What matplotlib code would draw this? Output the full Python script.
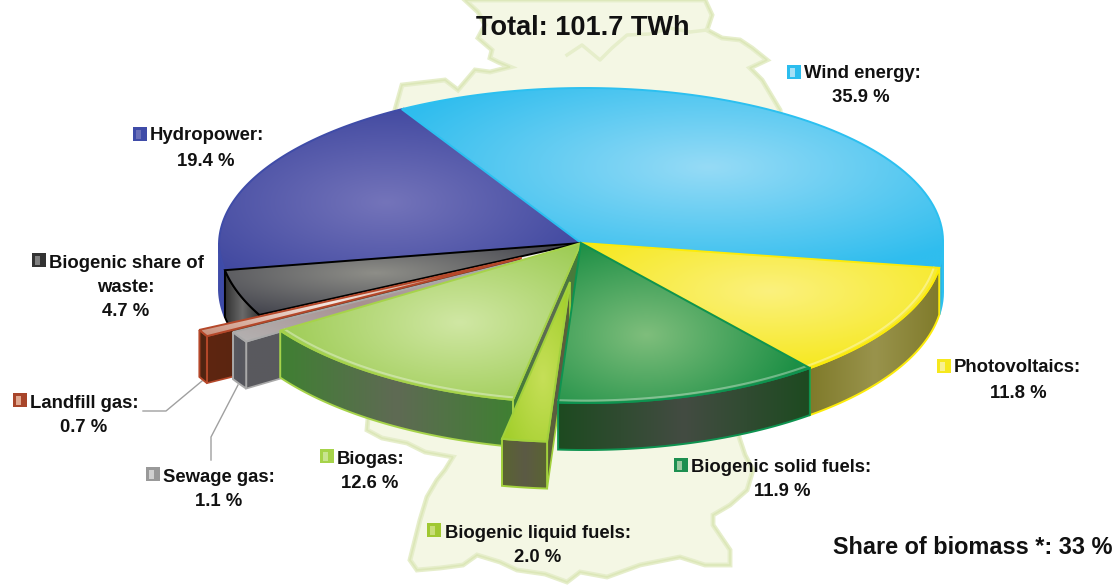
import numpy as np
import matplotlib
matplotlib.use("Agg")
import matplotlib.pyplot as plt
from matplotlib.patches import Polygon, Rectangle

plt.rcParams['font.family'] = ['Liberation Sans', 'DejaVu Sans']

# clockwise from the top of the pie
sources = ["Wind energy", "Photovoltaics", "Biogenic solid fuels",
           "Biogenic liquid fuels", "Biogas", "Sewage gas", "Landfill gas",
           "Biogenic share of waste", "Hydropower"]
shares = [35.9, 11.8, 11.9, 2.0, 12.6, 1.1, 0.7, 4.7, 19.4]
total_label = "Total: 101.7 TWh"
biomass_label = "Share of biomass *: 33 %"

CX, CY = 581, 243
RX, RY_BACK, RY_FRONT = 362, 155, 160
DEPTH = 47
START = 120.3
FONT = 13.3

# slice styles: face edge, face centre, wall edge, wall centre, outline
styles = {
    "Wind energy": ("#2FBDEE", "#96DBF6", "#2BB5E6", "#2BB5E6", "#2CC0F0"),
    "Photovoltaics": ("#F6E81E", "#FBF17E", "#7F7A2A", "#99934C", "#FCEB0A"),
    "Biogenic solid fuels": ("#1C8F45", "#7FBE7C", "#1D4A20", "#434C42", "#0E9350"),
    "Biogenic liquid fuels": ("#A3CF2C", "#C6DF58", "#5A6530", "#5C5A45", "#A2D13C"),
    "Biogas": ("#9CCB52", "#D0E7A4", "#3F8032", "#5F6A54", "#A6D34A"),
    "Sewage gas": ("#B5B5B5", "#A89090", "#5A5A5E", "#55565E", "#A9A9A9"),
    "Landfill gas": ("#C58873", "#F4E8E2", "#5E2610", "#4E2412", "#B5482A"),
    "Biogenic share of waste": ("#45464F", "#8E8E88", "#2E2E2E", "#6A6A6A", "#000000"),
    "Hydropower": ("#3F479F", "#7474BA", "#3C4AAA", "#3F4CA8", "#3F4CA8"),
}
# pulled out slices, shift in pixels
shifts = {"Biogenic liquid fuels": (-11, 39), "Sewage gas": (-34, 11),
          "Landfill gas": (-60, 15)}
side_walls = ["Biogenic liquid fuels", "Biogas", "Sewage gas", "Landfill gas"]
glow_slices = ["Photovoltaics", "Biogenic solid fuels", "Biogas"]
draw_order = ["Hydropower", "Wind energy", "Biogenic share of waste",
              "Landfill gas", "Sewage gas", "Biogas", "Biogenic liquid fuels",
              "Photovoltaics", "Biogenic solid fuels"]

# name, value, marker colour, lighter inner colour, then marker, name, value spots
labels = [
    ("Wind energy:", "35.9 %", "#2BBDEE", "#A5E0F6", (787, 72), (804, 74), (861, 98)),
    ("Hydropower:", "19.4 %", "#3F4CA8", "#6A70B8", (133, 134), (150, 136), (206, 161)),
    ("Biogenic share of", "4.7 %", "#333333", "#808080", (32, 260), (49, 263), (126, 311)),
    ("Landfill gas:", "0.7 %", "#A8452A", "#E0A890", (13, 400), (30, 403), (84, 427)),
    ("Sewage gas:", "1.1 %", "#999999", "#D0D0D0", (146, 474), (163, 478), (219, 501)),
    ("Biogas:", "12.6 %", "#A6D34A", "#C8E490", (320, 456), (337, 459), (370, 483)),
    ("Biogenic liquid fuels:", "2.0 %", "#A0C832", "#C8DE78", (427, 530), (445, 533), (538, 557)),
    ("Biogenic solid fuels:", "11.9 %", "#1C8F50", "#9AC8A0", (674, 465), (691, 467), (782, 491)),
    ("Photovoltaics:", "11.8 %", "#F6E81E", "#F8F090", (937, 366), (954, 368), (1018, 393)),
]

# outline of the country behind the pie
germany_x = [465, 478, 485, 478, 492, 490, 498, 510, 490, 475, 458, 445, 402, 395,
             367, 382, 407, 425, 453, 445, 437, 427, 420, 415, 410, 417, 440, 463,
             477, 500, 517, 545, 567, 580, 607, 640, 680, 705, 730, 730, 713, 713,
             730, 747, 753, 745, 740, 737, 800, 780, 762, 750, 767, 752, 740, 722,
             707, 712, 705]
germany_y = [0, 12, 25, 38, 50, 58, 62, 67, 72, 70, 90, 80, 85, 110,
             430, 438, 443, 452, 457, 470, 480, 497, 520, 540, 560, 570, 568, 565,
             555, 562, 570, 574, 582, 572, 577, 565, 557, 565, 565, 550, 525, 515,
             505, 490, 470, 455, 440, 430, 300, 110, 80, 68, 60, 48, 40, 38,
             30, 15, 0]
coast_x = [567, 582, 600, 612, 627, 650, 670, 690, 707]
coast_y = [55, 45, 60, 48, 35, 34, 28, 32, 30]


def hex_rgb(color):
    return np.array(matplotlib.colors.to_rgb(color))


def arc_point(t):
    """Point of the pie rim for an angle in degrees."""
    r = np.radians(t)
    ry = RY_BACK if np.sin(r) > 0 else RY_FRONT
    return CX + RX * np.cos(r) + 4 * abs(np.sin(r)), CY - ry * np.sin(r)


def fill_gradient(ax, pts, inner, outer, kind, zorder, center=None):
    """Fill a polygon with a gradient image clipped to it."""
    pts = np.array(pts)
    x0, y0 = pts.min(axis=0) - 1
    x1, y1 = pts.max(axis=0) + 1
    xs, ys = np.meshgrid(np.linspace(x0, x1, 300), np.linspace(y0, y1, 200))
    if kind == "radial":
        cx, cy = center
        d = np.hypot((xs - cx) / max(x1 - x0, 1) * 1.6, (ys - cy) / max(y1 - y0, 1) * 1.6)
    else:
        d = np.abs(xs - (x0 + x1) / 2) / max((x1 - x0) / 2, 1)
    d = np.clip(d, 0, 1)[..., None]
    img = hex_rgb(inner) * (1 - d) + hex_rgb(outer) * d
    clip = Polygon(pts, closed=True, transform=ax.transData, fc="none", ec="none")
    ax.add_patch(clip)
    im = ax.imshow(img, extent=(x0, x1, y1, y0), origin="upper", aspect="auto",
                   zorder=zorder, interpolation="bilinear")
    im.set_clip_path(clip)


def draw_slice(ax, name, t0, t1, z):
    face_edge, face_mid, wall_edge, wall_mid, line = styles[name]
    dx, dy = shifts.get(name, (0, 0))
    ts = np.linspace(t0, t1, 80)
    rim = np.array([arc_point(t) for t in ts]) + (dx, dy)
    apex = np.array([CX + dx, CY + dy])

    # the side wall that shows next to the neighbour
    if name in side_walls:
        end = rim[0]
        wall = [apex, end, end + (0, DEPTH), apex + (0, DEPTH)]
        fill_gradient(ax, wall, wall_mid, wall_edge, "linear", z)
        ax.add_patch(Polygon(wall, closed=True, fc="none", ec=line, lw=1.2, zorder=z + 0.1))

    # outer wall, only the part facing the viewer
    is_front = np.sin(np.radians(ts)) <= 0.01
    front = rim[is_front]
    if len(front) > 1:
        wall = np.vstack([front, front[::-1] + (0, DEPTH)])
        fill_gradient(ax, wall, wall_mid, wall_edge, "linear", z + 0.2)
        ax.add_patch(Polygon(wall, closed=True, fc="none", ec=line, lw=1.4, zorder=z + 0.3))

    face = np.vstack([apex, rim])
    mid = apex * 0.4 + rim[len(rim) // 2] * 0.6
    fill_gradient(ax, face, face_mid, face_edge, "radial", z + 0.4, center=mid)
    # soft glow just inside the front rim
    if name in glow_slices:
        glow = front * 0.985 + apex * 0.015
        ax.plot(glow[:, 0], glow[:, 1], color="white", lw=1.5, alpha=0.35, zorder=z + 0.45)
    ax.add_patch(Polygon(face, closed=True, fc="none", ec=line, lw=1.4, zorder=z + 0.5))


def draw_label(ax, label):
    name, value, edge, inner, marker, name_pos, value_pos = label
    mx, my = marker
    ax.add_patch(Rectangle((mx, my - 7), 14, 14, fc=edge, ec="none", zorder=30))
    ax.add_patch(Rectangle((mx + 3, my - 4), 5, 9, fc=inner, ec="none", zorder=31))
    ax.text(name_pos[0], name_pos[1], name, ha="left", va="center",
            fontsize=FONT, fontweight="bold", color="#111111", zorder=32)
    ax.text(value_pos[0], value_pos[1], value, ha="center", va="center",
            fontsize=FONT, fontweight="bold", color="#111111", zorder=32)


def main():
    fig = plt.figure(figsize=(11.18, 5.87), dpi=100)
    ax = fig.add_axes([0, 0, 1, 1])
    ax.set_axis_off()

    ax.add_patch(Polygon(np.column_stack([germany_x, germany_y]), closed=True,
                         fc="#F4F7E4", ec="none", zorder=1))
    ax.add_patch(Polygon(np.column_stack([germany_x, germany_y]), closed=True,
                         fc="none", ec="#E6EECB", lw=3.5, zorder=1.1))
    ax.add_patch(Polygon(np.column_stack([germany_x, germany_y]), closed=True,
                         fc="none", ec="#DCE7B8", lw=1.2, zorder=1.2))
    ax.plot(coast_x, coast_y, color="#E6EECB", lw=2.5, zorder=1.2)

    edges = START - np.cumsum([0] + shares) * 3.6
    angles = {n: (edges[i], edges[i + 1]) for i, n in enumerate(sources)}
    for i, name in enumerate(draw_order):
        draw_slice(ax, name, angles[name][0], angles[name][1], 5 + i)

    # leader lines of the two small slices
    ax.plot([143, 166, 202], [411, 411, 381], color="#A0A0A0", lw=1, zorder=4)
    ax.plot([211, 211, 238], [460, 437, 385], color="#A0A0A0", lw=1, zorder=4)

    for label in labels:
        draw_label(ax, label)
    ax.text(126, 287, "waste:", ha="center", va="center", fontsize=FONT,
            fontweight="bold", color="#111111", zorder=32)
    ax.text(583, 28, total_label, ha="center", va="center", fontsize=19.5,
            fontweight="bold", color="#111111", zorder=32)
    ax.text(833, 548, biomass_label, ha="left", va="center", fontsize=16.9,
            fontweight="bold", color="#111111", zorder=32)

    ax.set_xlim(0, 1118)
    ax.set_ylim(587, 0)
    fig.savefig("out.png", dpi=100)


if __name__ == "__main__":
    main()
